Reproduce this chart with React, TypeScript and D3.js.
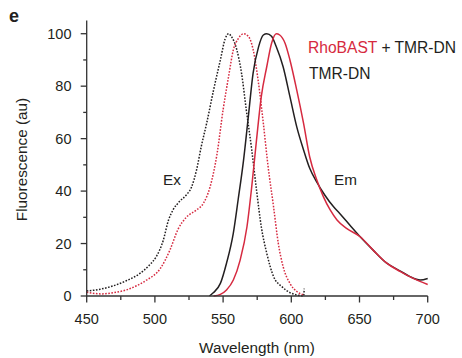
import React, { useEffect, useRef } from 'react';
import * as d3 from 'd3';

const colors = { black: '#231f20', red: '#d62a40', axis: '#333' };

// TMR-DN excitation (black dotted)
const exBlackNm = [450, 460, 469, 479, 489, 496, 501, 506, 510, 513.5, 518, 523, 527, 530.5, 534, 538, 543, 548, 551.5, 554, 556, 560, 563.5, 567, 571, 574.5, 578, 582, 587, 593, 599, 605, 609, 609.5];
const exBlackVal = [1.9, 2.6, 3.8, 5.8, 8.6, 11.8, 15, 21, 29, 33, 36, 38.5, 41.7, 48, 57, 66, 78.5, 90, 98, 100, 99, 94, 85, 71, 55.7, 40.4, 26.4, 16.3, 7.4, 3.6, 1.3, 0.3, 0, 2.8];

// RhoBAST + TMR-DN excitation (red dotted)
const exRedNm = [450, 461, 470, 479, 487, 494, 504, 511, 517, 523, 530.5, 535.5, 540.5, 545.5, 550, 554, 557.5, 561, 565, 568.5, 572, 576, 579.5, 583, 587, 590.5, 594, 599, 604, 609];
const exRedVal = [1.4, 0.8, 1.3, 2.3, 4, 6.1, 10.5, 17.5, 25.5, 30, 32.8, 35.3, 41.7, 54, 71, 83.6, 93.8, 98, 100, 99, 94, 81, 65.8, 49.3, 34, 20, 11.2, 4.8, 1.7, 0.4];

// TMR-DN emission (black solid)
const emBlackNm = [540, 543, 548, 552.5, 557.5, 561, 565, 568.5, 572, 576, 579.5, 582, 585.5, 589, 594, 599, 604, 609, 613.5, 618.5, 624.5, 631, 635.5, 643, 650.5, 660, 670, 680, 687, 694.5, 700];
const emBlackVal = [0, 1.3, 4.8, 12.5, 24, 36.6, 51.8, 68.4, 85, 95, 99.5, 100, 99, 95, 87.4, 76, 64.5, 55.7, 48.7, 43.6, 38.5, 34, 31.5, 27, 22.6, 17.5, 12.5, 9.5, 7.4, 6.1, 6.7];

// RhoBAST + TMR-DN emission (red solid)
const emRedNm = [543, 548, 552.5, 557.5, 562.5, 567.5, 571, 574.5, 578, 582, 585.5, 589, 591.5, 595.5, 599, 604, 609, 613.5, 618.5, 623.5, 628.5, 633.5, 640.5, 650.5, 660, 670, 680, 689.5, 700];
const emRedVal = [0, 0.6, 2.3, 6.1, 13.7, 26.4, 41.7, 59.5, 76, 87.4, 96.3, 100, 99.5, 96.3, 90, 78.5, 65.8, 53, 44.5, 37.9, 32.8, 29, 25.8, 22.6, 17.5, 12.5, 9.3, 6.7, 4.4];

const xTicks = [450, 500, 550, 600, 650, 700];
const xMinor = [475, 525, 575, 625, 675];
const yTicks = [0, 20, 40, 60, 80, 100];
const yMinor = [10, 30, 50, 70, 90];

const series = [
  { nm: exBlackNm, val: exBlackVal, color: colors.black, dotted: true },
  { nm: exRedNm, val: exRedVal, color: colors.red, dotted: true },
  { nm: emBlackNm, val: emBlackVal, color: colors.black, dotted: false },
  { nm: emRedNm, val: emRedVal, color: colors.red, dotted: false },
];

export default function App() {
  const ref = useRef<SVGSVGElement>(null);
  const width = 462, height = 358;

  useEffect(() => {
    if (!ref.current) return;
    const svg = d3.select(ref.current);
    svg.selectAll('*').remove();
    const font = '"Liberation Sans", Arial, Helvetica, sans-serif';

    const x = d3.scaleLinear().domain([450, 700]).range([86.7, 427.7]);
    const y = d3.scaleLinear().domain([0, 105]).range([296, 20.6]);

    const line = d3.line<[number, number]>().x(d => x(d[0])).y(d => y(d[1])).curve(d3.curveMonotoneX);

    series.forEach(s => {
      const pts = s.nm.map((n, i) => [n, s.val[i]] as [number, number]);
      svg.append('path').datum(pts).attr('d', line as any).attr('fill', 'none')
        .attr('stroke', s.color).attr('stroke-width', 1.5)
        .attr('stroke-dasharray', s.dotted ? '1.6,1.5' : null).attr('stroke-linejoin', 'round');
    });

    // axes
    const ax = svg.append('g').attr('stroke', colors.axis).attr('stroke-width', 1.3);
    ax.append('line').attr('x1', x(450)).attr('x2', x(450)).attr('y1', y(105)).attr('y2', y(0));
    ax.append('line').attr('x1', x(450)).attr('x2', x(700)).attr('y1', y(0)).attr('y2', y(0));
    yTicks.forEach(t => ax.append('line').attr('x1', x(450) - 6).attr('x2', x(450)).attr('y1', y(t)).attr('y2', y(t)));
    yMinor.forEach(t => ax.append('line').attr('x1', x(450) - 3.5).attr('x2', x(450)).attr('y1', y(t)).attr('y2', y(t)));
    xTicks.forEach(t => ax.append('line').attr('x1', x(t)).attr('x2', x(t)).attr('y1', y(0)).attr('y2', y(0) + 6.5));
    xMinor.forEach(t => ax.append('line').attr('x1', x(t)).attr('x2', x(t)).attr('y1', y(0)).attr('y2', y(0) + 4));

    const txt = svg.append('g').attr('font-family', font).attr('fill', colors.black).attr('font-size', 14.5);
    yTicks.forEach(t => txt.append('text').attr('x', 71.5).attr('y', y(t) + 5).attr('text-anchor', 'end').text(t));
    xTicks.forEach(t => txt.append('text').attr('x', x(t)).attr('y', 323.5).attr('text-anchor', 'middle').text(t));

    txt.append('text').attr('x', 257).attr('y', 353).attr('text-anchor', 'middle').attr('font-size', 15.3)
      .text('Wavelength (nm)');
    txt.append('text').attr('transform', 'translate(27,159.5) rotate(-90)').attr('text-anchor', 'middle')
      .attr('font-size', 15.3).text('Fluorescence (au)');

    txt.append('text').attr('x', 9).attr('y', 22).attr('font-size', 18).attr('font-weight', 'bold').text('e');

    const leg = txt.append('text').attr('x', 308).attr('y', 53).attr('font-size', 15.6);
    leg.append('tspan').attr('fill', colors.red).text('RhoBAST');
    leg.append('tspan').attr('fill', colors.black).text(' + TMR-DN');
    txt.append('text').attr('x', 309).attr('y', 79).attr('font-size', 15.6).text('TMR-DN');

    txt.append('text').attr('x', 163).attr('y', 185).attr('font-size', 15.3).text('Ex');
    txt.append('text').attr('x', 334).attr('y', 185).attr('font-size', 15.3).text('Em');
  }, []);

  return (
    <div style={{ position: 'absolute', left: 0, top: 0, background: '#fff' }}>
      <svg ref={ref} width={width} height={height} />
    </div>
  );
}
